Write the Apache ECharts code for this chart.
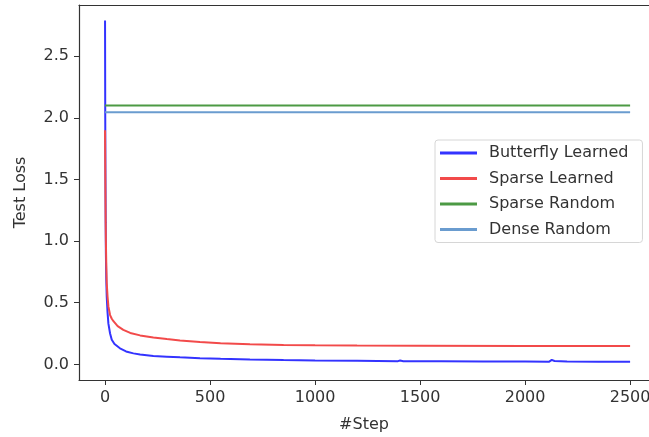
<!DOCTYPE html>
<html>
<head>
<meta charset="utf-8">
<script src="https://cdn.jsdelivr.net/npm/echarts@6/dist/echarts.min.js"></script>
<style>
  html, body { margin: 0; padding: 0; background: #fff; }
  #main { width: 649px; height: 437px; }
</style>
</head>
<body>
<div id="main"></div>
<script>
// data
var seriesNames = ['Butterfly Learned', 'Sparse Learned', 'Sparse Random', 'Dense Random'];
var seriesColors = ['#3333ff', '#f24a4a', '#4c9a44', '#6a9ccf'];

var butterflySteps = [0, 1, 2, 3, 4, 6, 8, 12, 16, 24, 32, 45, 71, 100, 135, 167, 230, 294, 357, 452, 550, 690, 850, 1000, 1200, 1395, 1405, 1420, 1600, 1800, 2000, 2115, 2127, 2140, 2200, 2350, 2500];
var butterflyLoss = [2.79, 2.0, 1.5, 1.15, 0.9, 0.68, 0.55, 0.42, 0.33, 0.25, 0.20, 0.165, 0.13, 0.105, 0.089, 0.08, 0.067, 0.062, 0.057, 0.05, 0.045, 0.04, 0.035, 0.032, 0.029, 0.026, 0.031, 0.026, 0.025, 0.024, 0.023, 0.022, 0.036, 0.027, 0.023, 0.022, 0.021];

var sparseSteps = [0, 1, 2, 3, 4, 6, 8, 12, 16, 24, 32, 40, 60, 87, 120, 167, 230, 294, 357, 452, 550, 690, 850, 1000, 1200, 1500, 2000, 2500];
var sparseLoss = [1.90, 1.6, 1.35, 1.15, 1.0, 0.8, 0.66, 0.55, 0.47, 0.40, 0.37, 0.35, 0.31, 0.28, 0.255, 0.235, 0.217, 0.205, 0.194, 0.182, 0.172, 0.164, 0.158, 0.155, 0.152, 0.151, 0.149, 0.148];

var flatSteps = [0, 2500];
var sparseRandomLoss = [2.10, 2.10];
var denseRandomLoss = [2.045, 2.045];

var xTicks = [0, 500, 1000, 1500, 2000, 2500];
var yTicks = [0, 0.5, 1.0, 1.5, 2.0, 2.5];

function pairs(xs, ys) {
	var out = [];
	for (var i = 0; i < xs.length; i++) out.push([xs[i], ys[i]]);
	return out;
}

var font = 'DejaVu Sans';
var myChart = echarts.init(document.getElementById('main'));

var lines = [
	pairs(butterflySteps, butterflyLoss),
	pairs(sparseSteps, sparseLoss),
	pairs(flatSteps, sparseRandomLoss),
	pairs(flatSteps, denseRandomLoss)
];

var series = [];
for (var i = 0; i < seriesNames.length; i++) {
	series.push({
		name: seriesNames[i],
		type: 'line',
		data: lines[i],
		showSymbol: false,
		symbol: 'none',
		color: seriesColors[i],
		lineStyle: { width: 2, color: seriesColors[i] },
		z: 2 + i //matplotlib order, later on top
	});
}

var option = {
	animation: false,
	backgroundColor: '#fff',
	grid: { left: 79, top: 5, right: 0, bottom: 57, outerBoundsMode: 'none', containLabel: false },
	legend: {
		orient: 'vertical',
		left: 435,
		top: 140,
		padding: [4, 14, 4, 5],
		itemGap: 7.5,
		itemWidth: 37,
		itemHeight: 3,
		icon: 'rect',
		backgroundColor: '#fff',
		borderColor: '#d6d6d6',
		borderWidth: 1,
		borderRadius: 3,
		textStyle: { fontFamily: font, fontSize: 16, color: '#333', lineHeight: 18, padding: [0, 0, 0, 7] },
		data: seriesNames
	},
	xAxis: [{
		type: 'value',
		min: -124,
		max: 2590,
		name: '#Step',
		nameLocation: 'middle',
		nameGap: 37,
		nameTextStyle: { fontFamily: font, fontSize: 16, color: '#333' },
		axisLine: { show: true, onZero: false, lineStyle: { color: '#333', width: 1.2 } },
		axisTick: { show: true, length: 5, customValues: xTicks, lineStyle: { color: '#333' } },
		axisLabel: {
			customValues: xTicks,
			margin: 10,
			fontFamily: font,
			fontSize: 16,
			color: '#333',
			formatter: function(v) { return String(v); }
		},
		splitLine: { show: false }
	}, {
		type: 'value',
		position: 'top',
		min: -124,
		max: 2590,
		axisLine: { show: true, onZero: false, lineStyle: { color: '#333', width: 1.2 } },
		axisTick: { show: false },
		axisLabel: { show: false },
		splitLine: { show: false }
	}],
	yAxis: {
		type: 'value',
		min: -0.127,
		max: 2.916,
		name: 'Test Loss',
		nameLocation: 'middle',
		nameGap: 50,
		nameRotate: 90,
		nameTextStyle: { fontFamily: font, fontSize: 16, color: '#333' },
		axisLine: { show: true, onZero: false, lineStyle: { color: '#333', width: 1.2 } },
		axisTick: { show: true, length: 5, customValues: yTicks, lineStyle: { color: '#333' } },
		axisLabel: {
			customValues: yTicks,
			margin: 10,
			fontFamily: font,
			fontSize: 16,
			color: '#333',
			formatter: function(v) { return v.toFixed(1); }
		},
		splitLine: { show: false }
	},
	series: series
};
myChart.setOption(option);
</script>
</body>
</html>
